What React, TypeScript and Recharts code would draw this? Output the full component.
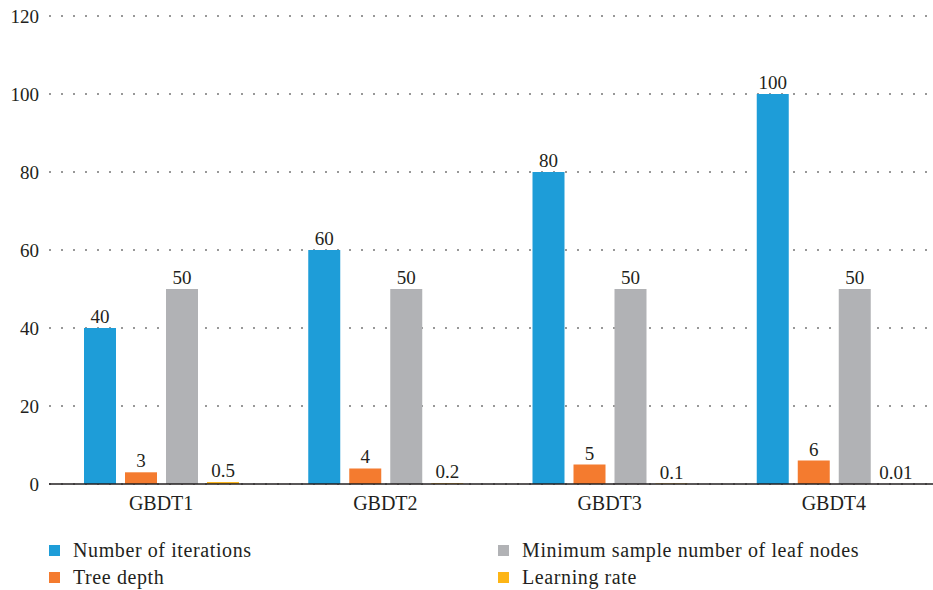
import React from "react";
import { BarChart, Bar, XAxis, YAxis, CartesianGrid, Legend, LabelList } from "recharts";

const categories = ["GBDT1", "GBDT2", "GBDT3", "GBDT4"];
const iterations = [40, 60, 80, 100];
const treeDepth = [3, 4, 5, 6];
const minSamples = [50, 50, 50, 50];
const learningRate = [0.5, 0.2, 0.1, 0.01];
const yTicks = [0, 20, 40, 60, 80, 100, 120];

const seriesInfo = [
  { key: "iterations", name: "Number of iterations", color: "#1E9DD8" },
  { key: "treeDepth", name: "Tree depth", color: "#F47B2F" },
  { key: "minSamples", name: "Minimum sample number of leaf nodes", color: "#B1B2B5" },
  { key: "learningRate", name: "Learning rate", color: "#FDB516" },
];

const data = categories.map((c, i) => ({
  name: c,
  iterations: iterations[i],
  treeDepth: treeDepth[i],
  minSamples: minSamples[i],
  learningRate: learningRate[i],
}));

const FONT = "Liberation Serif";
const TEXT = "#231F20";

const legendOrder = [0, 2, 1, 3];

const css = `
#chart-root, #chart-root *, #chart-root svg text, #chart-root svg tspan, #chart-root .recharts-text, #chart-root .recharts-legend-wrapper * {
  font-family: "Liberation Serif", serif !important;
}
`;

const LegendContent = () => (
  <div
    style={{
      position: "relative",
      width: 933,
      height: 60,
      fontFamily: FONT,
      fontSize: 20,
      letterSpacing: 0.6,
      color: TEXT,
    }}
  >
    {legendOrder.map((idx, j) => {
      const s = seriesInfo[idx];
      const col = j % 2;
      const row = Math.floor(j / 2);
      const left = col === 0 ? 49 : 498;
      const top = 7 + row * 27;
      return (
        <div
          key={s.key}
          style={{ position: "absolute", left, top, height: 27, display: "flex", alignItems: "center", whiteSpace: "nowrap" }}
        >
          <span style={{ display: "inline-block", width: 11, height: 11, background: s.color, marginRight: 13 }} />
          <span>{s.name}</span>
        </div>
      );
    })}
  </div>
);

export default function App() {
  return (
    <div id="chart-root" style={{ position: "absolute", left: 0, top: 0, width: 933, height: 590, overflow: "hidden", background: "#fff", fontFamily: FONT }}>
      <style>{css}</style>
      <BarChart
        width={946}
        height={590}
        data={data}
        margin={{ top: 16, right: 0, left: 0, bottom: 0 }}
        barSize={32}
        barGap={9}
      >
        <CartesianGrid vertical={false} stroke="#777" strokeWidth={1.3} strokeDasharray="2 10" />
        <XAxis
          dataKey="name"
          height={46}
          tickLine={false}
          tickSize={0}
          tickMargin={12}
          axisLine={{ stroke: TEXT, strokeWidth: 1.5 }}
          tick={{ fill: TEXT, fontSize: 20, fontFamily: FONT }}
        />
        <YAxis
          width={49}
          domain={[0, 120]}
          ticks={yTicks}
          axisLine={false}
          tickLine={false}
          tickSize={0}
          tickMargin={10}
          tick={{ fill: TEXT, fontSize: 19, fontFamily: FONT }}
        />
        <Legend
          verticalAlign="bottom"
          content={() => <LegendContent />}
          wrapperStyle={{ position: "absolute", top: 530, left: 0, bottom: "auto", width: 933, height: 60 }}
        />
        {seriesInfo.map((s) => (
          <Bar key={s.key} dataKey={s.key} name={s.name} fill={s.color} isAnimationActive={false}>
            <LabelList dataKey={s.key} position="top" offset={5} fill={TEXT} fontSize={19} fontFamily={FONT} />
          </Bar>
        ))}
      </BarChart>
    </div>
  );
}
